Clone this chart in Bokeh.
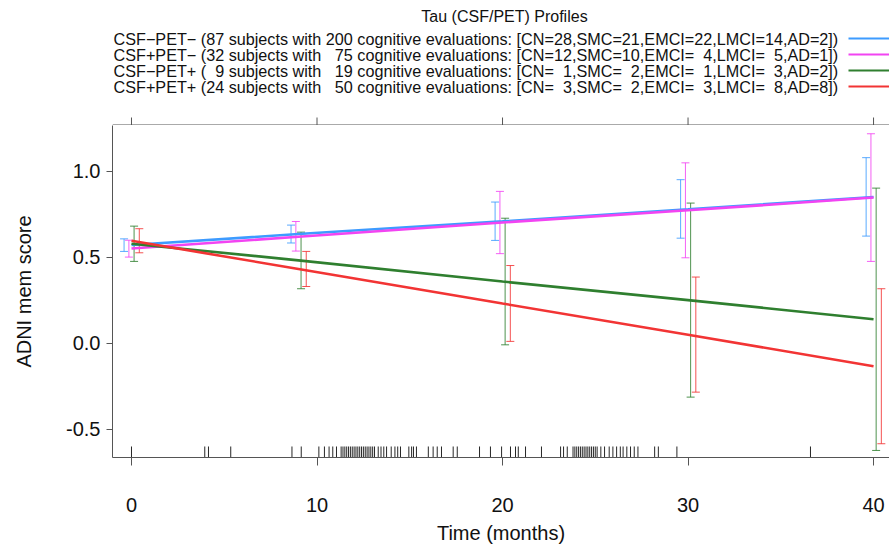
from bokeh.plotting import figure
from bokeh.models import (Range1d, FixedTicker, LinearAxis, Whisker, TeeHead,
                          ColumnDataSource, PrintfTickFormatter)
from bokeh.layouts import column
from bokeh.core.properties import value
from bokeh.embed import file_html
from bokeh.resources import INLINE

# ---------------- data ----------------
title = "Tau (CSF/PET) Profiles"
groups = ["CSF\u2212PET\u2212", "CSF+PET\u2212", "CSF\u2212PET+", "CSF+PET+"]
n_subjects = [87, 32, 9, 24]
n_evals = [200, 75, 19, 50]
cn = [28, 12, 1, 3]
smc = [21, 10, 2, 2]
emci = [22, 4, 1, 3]
lmci = [14, 5, 3, 8]
ad = [2, 1, 2, 8]
colors = ["#3d9bff", "#f244f2", "#2f7f2f", "#f23434"]

times = [0, 9, 20, 30, 40]
fit_1 = [0.572, 0.636, 0.710, 0.780, 0.851]
lo_1 = [0.535, 0.584, 0.599, 0.612, 0.624]
hi_1 = [0.608, 0.688, 0.822, 0.952, 1.080]

fit_2 = [0.552, 0.620, 0.703, 0.774, 0.848]
lo_2 = [0.502, 0.537, 0.522, 0.498, 0.477]
hi_2 = [0.600, 0.709, 0.884, 1.050, 1.219]

fit_3 = [0.580, 0.483, 0.360, 0.252, 0.141]
lo_3 = [0.477, 0.318, -0.008, -0.312, -0.622]
hi_3 = [0.682, 0.647, 0.728, 0.816, 0.903]

fit_4 = [0.597, 0.433, 0.232, 0.051, -0.133]
lo_4 = [0.527, 0.331, 0.012, -0.283, -0.583]
hi_4 = [0.667, 0.535, 0.453, 0.386, 0.318]

fits = [fit_1, fit_2, fit_3, fit_4]
lows = [lo_1, lo_2, lo_3, lo_4]
highs = [hi_1, hi_2, hi_3, hi_4]
dodge = [-0.40, -0.14, 0.14, 0.42]

rug_times = [0, 3.95, 4.15, 5.35, 8.65, 9.15, 10.1, 10.4, 10.65, 10.85, 11.05,
             11.3, 11.4, 11.5, 11.6, 11.7, 11.8, 11.9, 12.0, 12.1, 12.2, 12.3,
             12.4, 12.5, 12.6, 12.7, 12.8, 12.9, 13.0, 13.1, 13.3, 13.45, 13.6,
             13.75, 14.0, 14.2, 14.35, 14.5, 14.95, 15.1, 15.2, 15.36, 16.0,
             16.26, 16.48, 16.71, 17.34, 17.56, 18.76, 19.35, 19.95, 20.43,
             20.7, 20.85, 21.24, 22.1, 23.13, 23.29, 23.49, 23.8, 23.9, 24.0,
             24.1, 24.2, 24.3, 24.4, 24.5, 24.6, 24.7, 24.8, 24.9, 25.0, 25.1,
             25.3, 25.5, 25.75, 25.95, 26.15, 26.35, 26.5, 26.7, 26.9, 27.1,
             27.3, 28.2, 28.4, 29.4, 36.6]

x_ticks = [0, 10, 20, 30, 40]
y_ticks = [-0.5, 0.0, 0.5, 1.0]

FONT = "Liberation Sans"
W = 889
TOP_H = 125
MAIN_H = 549 - TOP_H
FRAME_L = 112


def pad(n, w):
    s = str(n)
    return "\u00a0\u00a0" * (w - len(s)) + s


labels = [
    f"{g} ({pad(ns, 2)} subjects with {pad(ne, 3)} cognitive evaluations: "
    f"[CN={pad(c, 2)},SMC={pad(s, 2)},EMCI={pad(e, 2)},LMCI={pad(l, 2)},AD={a}])"
    for g, ns, ne, c, s, e, l, a in zip(groups, n_subjects, n_evals, cn, smc, emci, lmci, ad)
]

xr = Range1d(-1.024, 40.86)
yr = Range1d(-0.663, 1.267)


def px2x(px):
    # header layout helper: canvas pixel -> shared x data coordinate
    return xr.start + (px - FRAME_L) / (W - FRAME_L) * (xr.end - xr.start)


# ---------------- header (title + legend + top ticks of the box) ----------------
top = figure(width=W, height=TOP_H, x_range=xr, y_range=Range1d(TOP_H, 0),
             output_backend="svg", toolbar_location=None, min_border=0,
             min_border_left=FRAME_L, min_border_right=0,
             x_axis_type=None, y_axis_type=None)
top.grid.visible = False
top.outline_line_color = None
top.text(x=[px2x(504)], y=[16], text=[title], text_align="center", text_baseline="middle",
         text_font=value(FONT), text_font_size="16px", text_color="#111111")
row_y = [38, 54, 70, 86]
top.text(x=[px2x(113)] * 4, y=row_y, text=labels, text_align="left", text_baseline="middle",
         text_font=value(FONT), text_font_size="16.2px", text_color="#111111")
top.segment(x0=[px2x(848)] * 4, y0=row_y, x1=[px2x(889)] * 4, y1=row_y,
            line_color=colors, line_width=2)
# top edge of the plot box and its outward ticks
top.segment(x0=[xr.start], y0=[TOP_H - 0.5], x1=[xr.end], y1=[TOP_H - 0.5],
            line_color="#555555", line_width=1)
top.segment(x0=x_ticks, y0=[TOP_H - 8] * len(x_ticks), x1=x_ticks, y1=[TOP_H] * len(x_ticks),
            line_color="#555555", line_width=1)

# ---------------- main plot ----------------
p = figure(width=W, height=MAIN_H, x_range=xr, y_range=yr,
           output_backend="svg", toolbar_location=None,
           min_border_left=FRAME_L, min_border_right=0, min_border_top=0, min_border_bottom=92,
           x_axis_type=None, y_axis_type=None)
p.grid.visible = False
p.outline_line_color = None


def style_axis(ax, tick_out):
    ax.axis_line_color = "#555555"
    ax.major_tick_line_color = "#555555"
    ax.major_tick_out = tick_out
    ax.major_tick_in = 0
    ax.minor_tick_line_color = None
    ax.major_label_text_font = FONT
    ax.major_label_text_font_size = "20px"
    ax.major_label_text_color = "#111111"
    ax.axis_label_text_font = FONT
    ax.axis_label_text_font_size = "20px"
    ax.axis_label_text_font_style = "normal"
    ax.axis_label_text_color = "#111111"


xb = LinearAxis(ticker=FixedTicker(ticks=x_ticks), axis_label="Time (months)")
style_axis(xb, 8)
xb.major_label_standoff = 32
xb.axis_label_standoff = 7
p.add_layout(xb, "below")

yl = LinearAxis(ticker=FixedTicker(ticks=y_ticks), formatter=PrintfTickFormatter(format="%.1f"),
                axis_label="ADNI mem score")
style_axis(yl, 6)
yl.major_label_standoff = 6
yl.axis_label_standoff = 28
p.add_layout(yl, "left")

# rug of evaluation times
y0 = yr.start
rug_len = 0.064
p.segment(x0=rug_times, y0=[y0] * len(rug_times), x1=rug_times,
          y1=[y0 + rug_len] * len(rug_times), line_color="black", line_width=1, line_alpha=0.85)

# error bars
for fit, lo, hi, col, off in zip(fits, lows, highs, colors, dodge):
    src = ColumnDataSource(dict(base=[t + off for t in times], lower=lo, upper=hi))
    w = Whisker(base="base", lower="lower", upper="upper", source=src,
                line_color=col, line_width=1, line_alpha=0.85,
                upper_head=TeeHead(size=8, line_color=col, line_width=1, line_alpha=0.85),
                lower_head=TeeHead(size=8, line_color=col, line_width=1, line_alpha=0.85))
    p.add_layout(w)

# fitted trajectories
for fit, col in zip(fits, colors):
    p.line(times, fit, line_color=col, line_width=2.6)

layout = column(top, p, spacing=0)
open("out.html", "w").write(file_html(layout, INLINE))
